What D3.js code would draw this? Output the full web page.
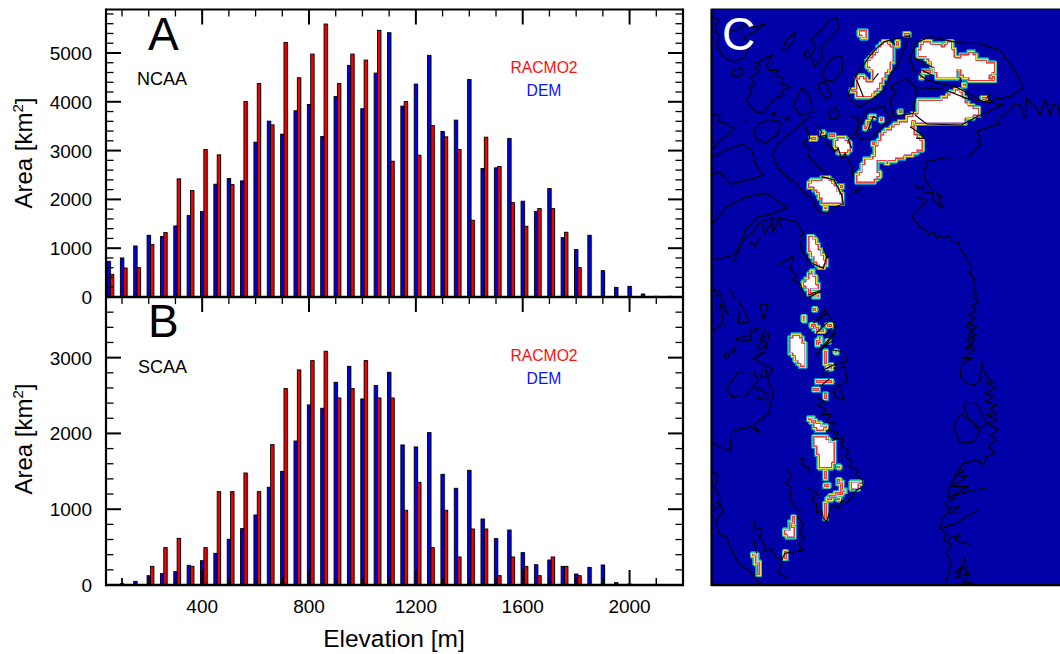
<!DOCTYPE html>
<html><head><meta charset="utf-8">
<script src="https://cdn.jsdelivr.net/npm/d3@7"></script>
<style>html,body{margin:0;background:#fff}svg{display:block}text{font-family:"Liberation Sans",Arial,sans-serif}</style>
</head><body><svg id="c" width="1060" height="654"></svg>
<script>
// ---------- data ----------
const elevations = d3.range(50, 2200, 50);
const ncaaDem = [732,800,1046,1265,1238,1456,1668,1750,2311,2427,2380,3173,3604,3337,3816,3945,3289,4110,4746,3857,4588,5416,3911,4363,4951,3392,3624,4458,2633,2646,3248,1963,1750,2222,1217,971,1265,540,198,219,62,15,15];
const ncaaRacmo = [465,595,602,1074,1320,2421,2181,3022,2913,2304,4007,4376,3528,5217,4493,4978,5594,4376,4978,4855,5464,2783,4007,2906,3515,3282,3022,1573,3275,2674,1935,1450,1812,1812,1327,602];
const scaaDem = [0,18,48,123,150,176,260,321,418,603,744,924,1289,1500,1900,2376,2332,2675,2886,2455,2631,2807,1848,1822,2011,1461,1276,1514,871,612,726,427,268,330,246,145,233,264,31,13];
const scaaRacmo = [0,0,0,246,493,616,246,493,1232,1232,1478,1232,1852,2592,2838,2961,3084,2468,2592,2961,2468,2468,986,1355,493,986,370,739,739,123,370,246,123,370,246,123];
const xTicks = [400,800,1200,1600,2000];
const xMinor = d3.range(100,2200,100).filter(v=>v%400!==0);
const yTicksA = [0,1000,2000,3000,4000,5000];
const yMinorA = d3.range(200,5900,200).filter(v=>v%1000!==0);
const yTicksB = [0,1000,2000,3000];
const yMinorB = d3.range(200,3800,200).filter(v=>v%1000!==0);

// map traces (map units, north part)
const coastN = [
 [[8,50],[25,60],[15,85],[30,110],[20,135],[40,170],[70,185],[105,172],[120,130],[100,112],[130,100],[165,72],[135,80],[105,75],[115,60],[90,85],[60,95]],
 [[218,150],[228,120],[255,98],[250,125],[228,150],[218,150]],
 [[322,100],[340,85],[355,60],[380,55],[388,85],[365,110],[335,140],[337,175],[315,197],[303,170],[318,140],[305,120],[322,100]],
 [[282,160],[297,150],[300,168],[288,175],[282,160]],
 [[68,212],[95,205],[100,225],[78,232],[66,222],[68,212]],
 [[108,300],[125,278],[118,262],[135,255],[122,232],[148,215],[135,205],[150,195],[140,188],[165,175],[188,165],[170,195],[178,212],[205,210],[195,225],[218,235],[212,250],[240,260],[212,275],[222,285],[200,292],[180,310],[165,335],[140,337],[122,320],[108,300]],
 [[335,225],[350,195],[370,172],[395,170],[397,210],[372,245],[345,240],[335,225]],
 [[323,252],[345,245],[365,285],[350,296],[330,278],[323,252]],
 [[250,320],[262,290],[275,263],[300,290],[307,335],[275,347],[250,320]],
 [[130,395],[150,370],[180,358],[212,365],[205,400],[165,432],[138,415],[130,395]],
 [[355,340],[375,322],[390,340],[380,358],[360,355],[355,340]],
 [[185,340],[195,338],[190,348],[185,340]],[[225,358],[238,350],[232,362],[225,358]],[[208,350],[215,348]],[[100,365],[112,362]],
 [[8,345],[30,345],[25,365],[45,370],[72,385],[50,408],[25,425],[8,450]],
 [[8,470],[50,450],[95,433],[125,450],[135,490],[160,525],[130,535],[62,553],[30,515],[8,525]],
 [[300,348],[255,388],[205,430],[188,465],[205,505],[240,540],[255,545],[280,575],[310,600],[318,628],[350,642],[365,625],[400,612],[395,585],[372,540],[335,530]],
 [[285,375],[300,415],[278,430],[300,445],[295,470],[320,495],[345,520]],
 [[322,375],[335,395],[330,410],[350,405],[345,430],[365,440],[375,455],[385,445],[395,478],[405,460],[415,480],[425,495],[430,535]],
 [[415,280],[440,225],[478,170],[500,145],[522,125],[560,115],[600,108],[585,140],[575,165],[560,200],[545,215],[520,275],[480,300],[450,322],[420,298],[415,280]],
 [[600,175],[615,130],[660,110],[730,125],[760,130],[808,130],[870,150],[910,205],[942,262],[900,290],[820,305],[740,262],[650,240],[610,210],[600,175]],
 [[622,262],[700,268],[770,295],[878,315],[800,350],[755,375],[650,372],[615,345]],
 [[425,350],[445,355],[440,395],[415,420],[425,445]],
 [[440,395],[470,332],[520,318],[540,355],[510,385],[480,420],[450,415],[440,395]],
 [[540,260],[590,235],[620,265],[610,340],[550,350],[540,300],[560,275],[540,260]],
 [[1050,355],[1045,320],[1030,310],[1020,345],[1005,298],[990,345],[975,320],[950,295],[945,355],[930,315],[915,310],[895,335],[885,345],[870,350],[865,372],[800,395],[812,415],[800,430],[815,432],[775,472],[705,473],[650,485],[640,520],[650,545],[665,570]],
 [[612,550],[625,565],[640,560],[640,580],[668,575],[670,600],[700,625],[680,580],[700,595]],
 [[615,590],[650,600],[620,635],[605,650],[640,690],[650,690],[655,705],[670,695],[680,715],[690,705],[700,715],[715,708],[725,725],[745,725],[750,745],[770,770],[775,790],[785,800],[780,820],[795,840],[790,860],[805,890]],
 [[8,670],[50,620],[110,590],[170,580],[232,622],[190,640],[140,652],[105,690],[95,730],[70,790]],
 [[8,780],[72,765],[100,720],[130,695],[150,665],[200,652],[260,665],[280,700],[270,740],[295,785],[340,805],[350,770],[340,745]],
 [[155,670],[165,700],[185,665],[190,695],[205,660],[215,685]],
 [[205,795],[250,768],[240,805],[262,830],[245,838],[270,850],[285,890]],
 [[120,725],[135,740],[150,710]],
 [[8,860],[25,895]],[[60,870],[75,895]],
 [[432,575],[455,565],[440,580],[432,575]],
 [[290,895],[330,875]],[[295,885],[340,868]],
 [[600,380],[630,400],[640,412]],[[618,415],[645,415]],[[540,120],[555,135]],[[610,170],[640,190],[665,200]],[[635,210],[665,225]],[[490,240],[505,220]],[[440,240],[460,290]],[[830,295],[840,280],[835,300]],[[470,400],[490,350],[500,355]]
];
const coastS = [
 [[800,5],[790,20],[805,35],[785,50],[800,60],[775,75],[795,85],[775,100],[800,110],[780,125],[800,135],[770,150],[790,160],[768,175],[790,180],[760,205],[785,205],[755,225],[750,260],[770,280],[795,285],[812,270],[815,215],[822,245],[835,265],[850,275],[830,280],[858,295],[825,310],[850,320],[825,335],[862,345],[838,355],[862,370],[830,375],[862,390],[835,400],[865,420],[840,435],[860,450],[835,470],[855,490],[830,500],[820,525],[805,510],[780,515],[760,520],[745,545],[730,570],[720,590],[712,620],[735,625],[705,640],[720,660],[695,690],[690,715],[710,730],[700,750],[725,765],[710,790],[725,815],[715,850],[705,880]],
 [[785,90],[770,110],[790,120],[772,135],[795,148],[775,165],[795,175],[778,190]],
 [[730,410],[750,370],[785,392],[810,430],[790,455],[750,460],[730,410]],
 [[760,340],[800,340],[830,400],[812,415],[775,385],[760,340]],
 [[745,530],[760,545],[730,555],[770,560],[725,590],[775,590],[720,620],[790,600],[825,595]],
 [[715,655],[750,650],[720,670],[755,670]],[[700,712],[740,700],[770,680],[805,660]],[[715,745],[750,735],[735,750],[780,765]],
 [[730,850],[760,830],[745,860],[780,850],[760,875],[790,880]],[[735,870],[765,805],[770,850]],
 [[50,295],[85,245],[130,245],[145,270],[110,315],[65,320],[50,295]],
 [[140,290],[175,315],[170,330],[145,325],[140,290]],
 [[155,240],[170,240],[168,262],[152,262],[155,240]],
 [[8,460],[60,485],[65,425],[120,410],[150,428],[132,405],[175,372],[190,310],[172,262],[190,238],[150,218],[130,205],[165,188],[178,130],[150,150],[165,120]],
 [[75,148],[120,135],[125,150],[85,155],[75,148]],[[120,120],[150,115],[125,128],[120,120]],
 [[42,195],[52,188],[58,200],[48,205],[42,195]],[[62,180],[78,175],[70,190],[62,180]],
 [[130,210],[150,190],[165,190]],[[140,170],[160,152],[170,165],[150,180],[140,170]],
 [[85,30],[120,95],[85,100],[88,60]],[[150,45],[175,42],[160,90],[150,45]],[[8,125],[40,95],[30,40],[55,75],[25,0]],
 [[320,320],[345,335],[322,345],[350,360],[335,375],[365,372],[350,395],[375,400],[355,420],[385,430],[370,450],[400,440],[395,470],[418,480],[405,500],[425,510],[420,530],[445,540],[435,555],[458,570],[460,590],[440,600],[425,620],[410,640],[395,630],[385,655],[365,645],[350,695],[340,685],[335,660],[318,670],[320,640],[305,630],[322,610],[305,600],[295,595]],
 [[365,180],[405,185],[410,215],[370,225]],[[370,235],[405,230],[412,275],[385,285],[405,330],[375,320],[370,285]],
 [[345,60],[372,100],[375,130],[335,180]],[[310,100],[350,70]],[[318,130],[355,95]],[[315,200],[370,130]],[[340,170],[372,150]],[[330,290],[360,265]],[[340,240],[370,225]],[[325,85],[350,55]],[[340,140],[365,115]],[[335,260],[355,240]],
 [[262,510],[280,505],[275,525],[295,530],[298,552]],
 [[235,540],[245,560],[225,580],[245,590],[240,620],[250,650],[270,660],[265,685],[280,700],[270,730],[285,745],[265,760],[280,780],[255,785],[225,790],[215,810],[205,850],[235,865]],
 [[120,692],[135,700],[130,720],[155,715],[150,745],[165,765],[165,785],[185,775],[195,800],[215,810]],[[130,745],[140,790]],
 [[8,545],[25,555],[15,590],[30,620],[25,640],[42,660],[20,690],[25,730],[50,740],[60,770],[75,800],[90,825],[120,845],[150,880]],
 [[10,660],[35,640]]
];
// ice polygons
const iceN = [
 [[452,98],[468,92],[470,112],[456,115]],
 [[515,135],[530,125],[548,150],[545,175],[535,205],[515,240],[505,262],[480,285],[440,285],[438,255],[452,232],[475,252],[495,240],[490,210],[470,190],[500,165]],
 [[628,150],[650,120],[668,145],[680,130],[700,145],[720,125],[740,190],[740,235],[690,235],[670,195],[645,170],[630,170]],
 [[750,172],[790,160],[795,182],[850,190],[850,215],[815,240],[770,235],[750,210]],
 [[625,300],[700,300],[745,270],[775,322],[805,325],[805,345],[770,350],[760,365],[680,365],[620,365],[595,355],[625,340]],
 [[575,365],[605,370],[610,400],[640,430],[635,445],[575,470],[530,485],[500,475],[495,450],[520,405]],
 [[465,480],[495,475],[500,515],[510,525],[490,540],[450,545],[440,535],[460,510]],
 [[385,415],[410,420],[420,450],[390,455],[380,435]],
 [[345,530],[365,545],[400,600],[380,610],[345,610],[320,570],[292,550],[335,540]],
 [[298,705],[315,728],[345,790],[330,800],[305,765],[298,735]],
 [[305,812],[315,850],[325,870],[275,855],[295,840]]
];
const iceS = [
 [[258,130],[275,150],[285,175],[285,225],[272,222],[240,175],[245,150]],
 [[310,445],[345,445],[375,465],[372,500],[360,535],[335,535],[325,490]],
 [[300,385],[325,405],[350,410],[330,422]],
 [[422,580],[445,575],[440,592],[425,592]],
 [[228,725],[248,715],[250,738],[232,745]]
];
const spotsN = [[[310,412],[312,412]],[[340,397],[342,397]],[[362,405],[368,405]],[[480,352],[490,355]],[[515,362],[516,362]],[[570,335],[571,335]],[[488,430],[489,430]],[[820,295],[826,298]],[[760,252],[761,252]],[[395,558],[396,558]],[[345,623],[346,623]],[[590,105],[591,105]],[[560,125],[566,135]],[[635,228],[636,228]],[[645,212],[655,215]],[[470,380],[476,370]],[[830,240],[850,235]],[[425,275],[432,270]]];
const spotsS = [[[295,5],[325,18]],[[315,58],[316,58]],[[283,85],[284,90]],[[358,105],[359,105]],[[305,105],[335,125]],[[320,160],[333,150]],[[357,155],[358,155]],[[375,185],[376,185]],[[345,190],[350,215]],[[355,235],[365,230]],[[325,275],[360,272]],[[318,295],[319,295]],[[345,318],[347,320]],[[345,548],[345,565]],[[350,590],[351,590]],[[385,530],[386,530]],[[388,570],[400,605],[358,625]],[[385,630],[390,628]],[[345,642],[343,680]],[[452,575],[453,578]],[[248,685],[245,710]],[[225,785],[224,800]],[[132,792],[145,825],[143,855]],[[300,385],[318,400]]];

// ---------- layout ----------
const svg = d3.select('#c');
const L=106,R=683,T=9.5,M=297,B=585;
const x = d3.scaleLinear().domain([40,2200]).range([L,R]);
const yA = d3.scaleLinear().domain([0,5891]).range([M,T]);
const yB = d3.scaleLinear().domain([0,3800]).range([B,M]);
const bw=3.35;

function bars(vals,y,off,col){
  const base=y(0);
  const data=vals.map((v,i)=>[elevations[i],v]).filter(d=>d[1]>0);
  const cx=d=>x(d[0])+off-bw/2;
  svg.append('g').selectAll('rect').data(data).join('rect')
    .attr('x',d=>cx(d)+1).attr('y',d=>y(d[1])).attr('width',bw).attr('height',d=>base-y(d[1])).attr('fill','#bbb');
  svg.append('g').selectAll('rect').data(data).join('rect')
    .attr('x',cx).attr('y',d=>y(d[1])).attr('width',bw).attr('height',d=>base-y(d[1]))
    .attr('fill',col).attr('stroke','#000').attr('stroke-width',0.9);
}
function seg(x1,y1,x2,y2,w){svg.append('line').attr('x1',x1).attr('y1',y1).attr('x2',x2).attr('y2',y2).attr('stroke','#000').attr('stroke-width',w);}
function label(t,px,py,size,anchor,fill){return svg.append('text').attr('x',px).attr('y',py).attr('font-size',size).attr('text-anchor',anchor||'start').attr('fill',fill||'#000').text(t);}

xTicks.forEach(v=>seg(x(v),B,x(v),B-15,2));
xMinor.forEach(v=>seg(x(v),B,x(v),B-7,1.5));
bars(ncaaDem,yA,0,'#0000e6');
bars(ncaaRacmo,yA,3.35,'#f00000');
bars(scaaDem,yB,0,'#0000e6');
bars(scaaRacmo,yB,3.35,'#f00000');
xTicks.concat(xMinor).filter(v=>v<=1900).forEach(v=>{
  const major=xTicks.includes(v);
  svg.append('line').attr('x1',x(v)).attr('x2',x(v)).attr('y1',B).attr('y2',B-(major?15:7)).attr('stroke','#000').attr('stroke-width',1.5).attr('opacity',0.75);
});

seg(L,T,R,T,2.2); seg(L,M,R,M,2.4); seg(L,B,R,B,2.6);
seg(L,T-1,L,B+1.3,2.2); seg(R,T-1,R,B+1.3,2.2);
xTicks.forEach(v=>{seg(x(v),T,x(v),T+15,2);seg(x(v),M,x(v),M+15,2);});
xMinor.forEach(v=>{seg(x(v),T,x(v),T+7,1.3);seg(x(v),M,x(v),M+7,1.3);});
yTicksA.slice(1).forEach(v=>{seg(L,yA(v),L+15,yA(v),2);seg(R,yA(v),R-15,yA(v),2);});
yMinorA.forEach(v=>{seg(L,yA(v),L+7.5,yA(v),1.3);seg(R,yA(v),R-7.5,yA(v),1.3);});
yTicksB.slice(1).forEach(v=>{seg(L,yB(v),L+15,yB(v),2);seg(R,yB(v),R-15,yB(v),2);});
yMinorB.forEach(v=>{seg(L,yB(v),L+7.5,yB(v),1.3);seg(R,yB(v),R-7.5,yB(v),1.3);});
yTicksA.forEach(v=>label(String(v),92,yA(v)+7,19,'end'));
yTicksB.forEach(v=>label(String(v),92,yB(v)+7,19,'end'));
xTicks.forEach(v=>label(String(v),x(v),613,19,'middle'));
label('Elevation [m]',394,647,24.5,'middle');
function areaTitle(cy){
  const t=svg.append('text').attr('transform',`translate(32,${cy}) rotate(-90)`).attr('font-size',24).attr('text-anchor','middle');
  t.append('tspan').text('Area [km');
  t.append('tspan').text('2').attr('font-size',15).attr('dy',-9);
  t.append('tspan').text(']').attr('dy',9);
}
areaTitle(153); areaTitle(439);
label('A',148,50,46);
label('B',148,337,46);
label('NCAA',137,85,18);
label('SCAA',138,373,18);
label('RACMO2',544,73,15.7,'middle','#ff1010');
label('DEM',544,96,15.7,'middle','#1010ff');
label('RACMO2',544,361,15.7,'middle','#ff1010');
label('DEM',544,384,15.7,'middle','#1010ff');

// ---------- map panel ----------
const mx = d3.scaleLinear().domain([0,1050]).range([710,1060]);
const myN = d3.scaleLinear().domain([0,900]).range([0,300]);
const myS = d3.scaleLinear().domain([0,900]).range([290,590]);
const defs = svg.append('defs');
defs.append('clipPath').attr('id','mapclip').append('rect').attr('x',712).attr('y',9).attr('width',348).attr('height',576);
defs.append('filter').attr('id','soft').append('feGaussianBlur').attr('stdDeviation',0.4);
svg.append('rect').attr('x',712).attr('y',9).attr('width',348).attr('height',576).attr('fill','#0000a8');
const map = svg.append('g').attr('clip-path','url(#mapclip)');
const lineN = d3.line().x(d=>mx(d[0])).y(d=>myN(d[1]));
const lineS = d3.line().x(d=>mx(d[0])).y(d=>myS(d[1]));

// rasterise the ice outlines onto the coarse model grid
const cell=2.67, X0=712, Y0=9, nx=Math.ceil(348/cell), ny=Math.ceil(576/cell);
const mask=new Uint8Array(nx*ny);
const at=(i,j)=>(i<0||j<0||i>=nx||j>=ny)?0:mask[j*nx+i];
function addPoly(p){
  const ext=d3.extent(p,d=>d[0]), eyt=d3.extent(p,d=>d[1]);
  for(let j=Math.floor((eyt[0]-Y0)/cell)-1;j<=Math.ceil((eyt[1]-Y0)/cell)+1;j++)
  for(let i=Math.floor((ext[0]-X0)/cell)-1;i<=Math.ceil((ext[1]-X0)/cell)+1;i++){
    if(i<0||j<0||i>=nx||j>=ny) continue;
    const cx=X0+(i+.5)*cell, cy=Y0+(j+.5)*cell, o=cell*.45;
    if([[0,0],[-o,-o],[o,-o],[-o,o],[o,o]].some(e=>d3.polygonContains(p,[cx+e[0],cy+e[1]]))) mask[j*nx+i]=1;
  }
}
function addSpot(p){
  for(let k=0;k<p.length-1;k++){
    const n=Math.max(1,Math.ceil(Math.hypot(p[k+1][0]-p[k][0],p[k+1][1]-p[k][1])));
    for(let s=0;s<=n;s++){
      const q=p[k][0]+(p[k+1][0]-p[k][0])*s/n, r=p[k][1]+(p[k+1][1]-p[k][1])*s/n;
      const i=Math.floor((q-X0)/cell), j=Math.floor((r-Y0)/cell);
      if(i>=0&&j>=0&&i<nx&&j<ny) mask[j*nx+i]=1;
    }
  }
}
const toPxN=p=>p.map(d=>[mx(d[0]),myN(d[1])]), toPxS=p=>p.map(d=>[mx(d[0]),myS(d[1])]);
iceN.forEach(p=>addPoly(toPxN(p))); iceS.forEach(p=>addPoly(toPxS(p)));
spotsN.forEach(p=>addSpot(toPxN(p))); spotsS.forEach(p=>addSpot(toPxS(p)));
const rectDist=(px,py,i,j)=>{
  const x0=X0+i*cell,y0=Y0+j*cell;
  const dx=Math.max(x0-px,0,px-x0-cell), dy=Math.max(y0-py,0,py-y0-cell);
  return Math.hypot(dx,dy);
};
// per-pixel colour by distance to the ice edge, merged into horizontal runs
const runs=[];
for(let py=9;py<585;py++){
  let start=null,col=null;
  for(let px=712;px<=1060;px++){
    const qx=px+.5,qy=py+.5,ci=Math.floor((qx-X0)/cell),cj=Math.floor((qy-Y0)/cell);
    let c=null;
    if(px<1060){
      if(at(ci,cj)){
        let depth=99;
        for(let a=-1;a<=1;a++)for(let b=-1;b<=1;b++) if(!at(ci+a,cj+b)) depth=Math.min(depth,rectDist(qx,qy,ci+a,cj+b));
        c = depth<0.8?'#e84038':depth<1.5?'#c890d8':'#ffffff';
      } else {
        let dist=99;
        for(let a=-2;a<=2;a++)for(let b=-2;b<=2;b++) if(at(ci+a,cj+b)) dist=Math.min(dist,rectDist(qx,qy,ci+a,cj+b));
        c = dist<0.8?'#f4e030':dist<1.6?'#30d090':dist<2.4?'#0088d0':null;
      }
    }
    if(c!==col){
      if(col) runs.push([start,py,px-start,col]);
      start=px; col=c;
    }
  }
}
map.append('g').attr('filter','url(#soft)').attr('shape-rendering','crispEdges').selectAll('rect').data(runs).join('rect')
  .attr('x',d=>d[0]).attr('y',d=>d[1]).attr('width',d=>d[2]).attr('height',1).attr('fill',d=>d[3]);
map.append('g').selectAll('path').data(coastN).join('path').attr('d',lineN).attr('fill','none').attr('stroke','#000').attr('stroke-width',1.15);
map.append('g').selectAll('path').data(coastS).join('path').attr('d',lineS).attr('fill','none').attr('stroke','#000').attr('stroke-width',1.15);
seg(711.5,9,711.5,586,2.2); seg(711,585,1060,585,2.4); seg(711,9,1060,9,1);
label('C',722,50,46,'start','#fff');
</script></body></html>
